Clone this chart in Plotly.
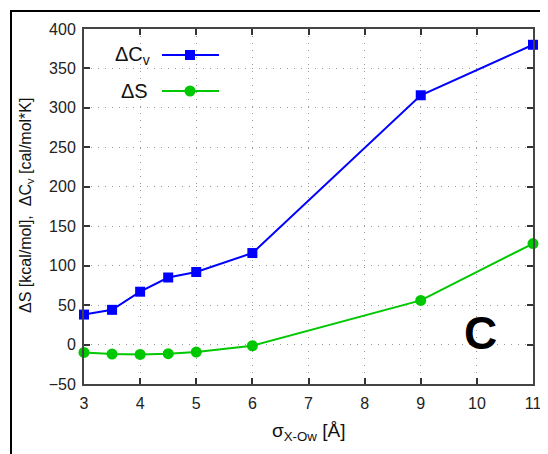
import plotly.graph_objects as go

sigma = [3, 3.5, 4, 4.5, 5, 6, 9, 11]
dCv = [38, 44, 67, 85, 92, 116, 316, 380]
dS = [-10, -12, -12.5, -11.5, -9.5, -1.5, 56, 128]

x_ticks = [3, 4, 5, 6, 7, 8, 9, 10, 11]
y_ticks = [-50, 0, 50, 100, 150, 200, 250, 300, 350, 400]

BLUE = "#0000ff"
GREEN = "#00c800"

# page body has an 8px margin; work in page pixel coordinates
OFF = 8
PAGE_W, PAGE_H = 548, 454
L, R, T, B = 84, 533, 29, 384
PW, PH = R - L, B - T


def px(xp):
    return (xp - L) / PW


def py(yp):
    return (B - yp) / PH


fig = go.Figure()
fig.add_trace(go.Scatter(x=sigma, y=dCv, mode="lines+markers",
                         line=dict(color=BLUE, width=2),
                         marker=dict(symbol="square", size=10, color=BLUE),
                         showlegend=False, cliponaxis=False))
fig.add_trace(go.Scatter(x=sigma, y=dS, mode="lines+markers",
                         line=dict(color=GREEN, width=2),
                         marker=dict(symbol="circle", size=11, color=GREEN),
                         showlegend=False, cliponaxis=False))

font = "Liberation Sans"
axis_common = dict(
    showline=True, linecolor="#444", linewidth=2, mirror="ticks",
    ticks="inside", ticklen=6, tickwidth=1.5, tickcolor="#333",
    showgrid=True, gridcolor="#999999", griddash="1px,6px", gridwidth=1,
    zeroline=False, tickfont=dict(family=font, size=16, color="#222"),
)

fig.update_xaxes(range=[3, 11], tickvals=x_ticks, ticklabelstandoff=4, **axis_common)
fig.update_yaxes(range=[-50, 400], tickvals=y_ticks, ticklabelstandoff=3, **axis_common)

shapes = [
    # outer frame
    dict(type="rect", xref="paper", yref="paper", x0=px(11), x1=px(600),
         y0=py(600), y1=py(11), line=dict(color="black", width=2), layer="above"),
    # legend background
    dict(type="rect", xref="paper", yref="paper", x0=px(100), x1=px(233),
         y0=py(104), y1=py(35), fillcolor="white", line=dict(width=0), layer="between"),
    # "C" label background
    dict(type="rect", xref="paper", yref="paper", x0=px(442), x1=px(526),
         y0=py(380), y1=py(292), fillcolor="white", line=dict(width=0), layer="between"),
    # legend samples
    dict(type="line", xref="paper", yref="paper", x0=px(162), x1=px(219),
         y0=py(55), y1=py(55), line=dict(color=BLUE, width=2), layer="above"),
    dict(type="line", xref="paper", yref="paper", x0=px(162), x1=px(219),
         y0=py(91), y1=py(91), line=dict(color=GREEN, width=2), layer="above"),
    dict(type="rect", xref="paper", yref="paper", xsizemode="pixel", ysizemode="pixel",
         xanchor=px(190), yanchor=py(55), x0=-5, x1=5, y0=-5, y1=5,
         fillcolor=BLUE, line=dict(width=0), layer="above"),
    dict(type="circle", xref="paper", yref="paper", xsizemode="pixel", ysizemode="pixel",
         xanchor=px(190), yanchor=py(91), x0=-5.5, x1=5.5, y0=-5.5, y1=5.5,
         fillcolor=GREEN, line=dict(width=0), layer="above"),
]

annotations = [
    dict(text="ΔC<sub>v</sub>", xref="paper", yref="paper", x=px(152), y=py(55),
         xanchor="right", yanchor="middle", showarrow=False,
         font=dict(family=font, size=20, color="#111")),
    dict(text="ΔS", xref="paper", yref="paper", x=px(150), y=py(91),
         xanchor="right", yanchor="middle", showarrow=False,
         font=dict(family=font, size=20, color="#111")),
    dict(text="<b>C</b>", xref="paper", yref="paper", x=px(480), y=py(333),
         xanchor="center", yanchor="middle", showarrow=False,
         font=dict(family=font, size=46, color="black")),
    dict(text="ΔS [kcal/mol],  ΔC<sub>v</sub> [cal/mol*K]", xref="paper", yref="paper",
         x=px(26), y=py(206), xanchor="center", yanchor="middle", textangle=-90,
         showarrow=False, font=dict(family=font, size=16, color="#111")),
    dict(text="σ<sub>X-Ow</sub> [Å]", xref="paper", yref="paper",
         x=0.5, y=py(432), xanchor="center", yanchor="middle",
         showarrow=False, font=dict(family=font, size=19, color="#111")),
]

fig.update_layout(
    width=PAGE_W - OFF, height=PAGE_H - OFF,
    margin=dict(l=L - OFF, r=PAGE_W - R, t=T - OFF, b=PAGE_H - B, autoexpand=False),
    plot_bgcolor="white", paper_bgcolor="white",
    shapes=shapes, annotations=annotations, showlegend=False,
)

fig.write_html("out.html")
